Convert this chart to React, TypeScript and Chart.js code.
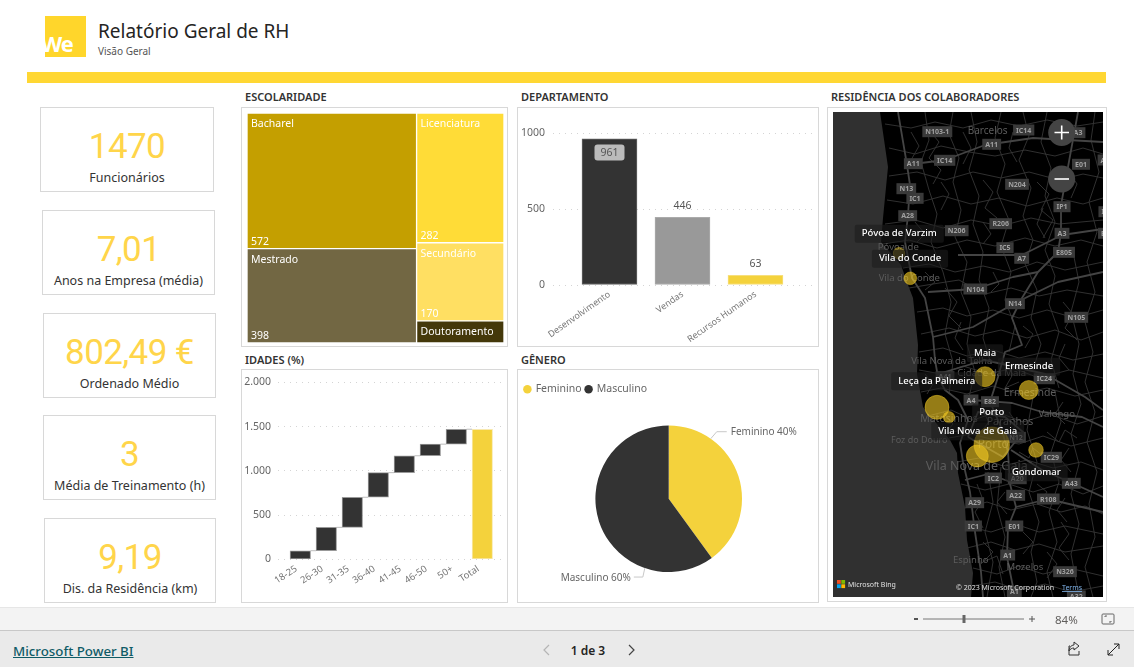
import React, { useEffect, useRef } from "react";
import { Chart, registerables } from "chart.js";

Chart.register(...registerables);

const FONT = '"Noto Sans", "Open Sans", sans-serif';
Chart.defaults.font.family = FONT;

// ---- KPI
const kpiValues = ["1470", "7,01", "802,49 €", "3", "9,19"];
const kpiLabels = ["Funcionários", "Anos na Empresa (média)", "Ordenado Médio", "Média de Treinamento (h)", "Dis. da Residência (km)"];

// ---- Escolaridade
const eduLeftNames = ["Bacharel", "Mestrado"];
const eduLeftValues = [572, 398];
const eduRightNames = ["Licenciatura", "Secundário", "Doutoramento"];
const eduRightValues = [282, 170, 48];
const eduLeftColors = ["#C49F00", "#726743"];
const eduRightColors = ["#FFDC37", "#FFDF62", "#44380A"];

// ---- Departamento
const deptNames = ["Desenvolvimento", "Vendas", "Recursos Humanos"];
const deptValues = [961, 446, 63];
const deptColors = ["#333333", "#999999", "#F4D23C"];
const deptBorders = ["#666666", "#ABABAB", "#F7DF7C"];

// ---- Idades
const ageNames = ["18-25", "26-30", "31-35", "36-40", "41-45", "46-50", "50+", "Total"];
const ageBottoms = [0, 97, 361, 701, 979, 1170, 1301, 0];
const ageTops = [97, 361, 701, 979, 1170, 1301, 1470, 1470];

// ---- Género
const genderNames = ["Feminino", "Masculino"];
const genderValues = [588, 882];
const genderColors = ["#F4D23C", "#333333"];

// ---- Residência (map units)
const cityNames = ["Póvoa de Varzim", "Vila do Conde", "Maia", "Ermesinde", "Leça da Palmeira", "Matosinhos", "Porto", "Vila Nova de Gaia", "Gondomar"];
const cityX = [66, 77.3, 152, 195.7, 104, 116, 158.7, 144.3, 203];
const cityY = [141.3, 166.3, 264.7, 278, 295.3, 305.3, 332.7, 344, 338];
const citySize = [5.7, 6.3, 10, 9.5, 12, 5.7, 17.7, 11, 7.3];
const tipNames = ["Póvoa de Varzim", "Vila do Conde", "Maia", "Ermesinde", "Leça da Palmeira", "Porto", "Vila Nova de Gaia", "Gondomar"];
const tipX = [66.3, 77, 152, 196, 103.7, 158.7, 144.7, 203.3];
const tipY = [121.7, 146.7, 241.3, 254.7, 269.3, 300.7, 319.3, 360.3];
const coast = [0,0, 47,0, 55,55, 50,106, 48,130, 68,153, 75,173, 80,186, 85,233, 84,262, 90,295, 117,328, 124,341, 125,361, 132,395, 134,428, 140,461, 138,485, 0,485];
const towns: [string, number, number, number][] = [
  ["Barcelos",154.7,18.7,10],["Póvoa de",65.3,135.3,9.5],["Vila do Conde",76.3,166.7,9.5],["Vila Nova da Telha",118.7,249.7,9.5],
  ["Cidade da Maia",158.7,261.3,9.5],["Ermesinde",197,281.3,10.5],["Matosinhos",116,306.7,10.5],["Paranhos",177,310,10.5],
  ["Valongo",223.7,302,9.5],["Foz do Douro",86.3,328.7,9],["Porto",160.3,332.7,12],["Vila Nova de Gaia",143.7,354.7,12.5],
  ["Espinho",137.7,448.7,9.5],["Mozelos",192,455.7,9.5],
];
const shields: [string, number, number][] = [
  ["N103-1",104.3,19.7],["IC14",190.7,18],["A11",158.7,32.3],["A11",80.3,51.7],["IC14",111.7,48.3],["E01",248,52.3],["N13",73.3,76.7],
  ["IC1",82,86.3],["N204",184,72.3],["IP1",229,94.7],["A28",74.7,103.7],["R206",167.7,111.7],["N206",123.7,118.7],["A3",229,121.3],
  ["IC5",172,135.7],["E805",231,140.3],["A7",188.7,146.3],["N104",142.3,177],["N14",182,191.7],["N105",243.3,205.3],["A3",245,20.7],
  ["A4",272,48],["IP",272,99.7],["E8",272,121.3],["A41",112,264.7],["IC24",211.3,266.7],["A4",138,288],["E82",157,289.7],["N12",183,325.3],
  ["IC29",218.3,345.3],["IC2",160.3,366],["A20",184.3,366.7],["A43",238.3,371.3],["A22",182.7,383.3],["R108",215.3,387],["A29",141.7,390.7],
  ["IC1",140.3,414],["E01",181.3,414],["A1",174.7,443],["N326",232,459.7],["A1",181.3,479.7],["A32",243.3,484],
];
const mainRoads = [
  [65,0,74,53,77,73,75,103,72,130,79,166,92,186,100,225,102,248,105,265,112,278,125,288,135,308,127,331,130,350,137,380,142,420,148,460,150,485],
  [245,0,235,55,228,93,228,121,225,140,205,160,189,186,179,206,189,233,172,240,165,265,157,290,168,315,175,340,177,372,183,395,175,415,174,445,182,485],
  [125,143,189,143,229,123,270,117],[80,52,112,48,152,33,200,26,270,30],[105,262,152,248,212,262,252,285,270,298],
  [138,288,179,291,209,300,249,305,270,315],[178,338,209,358,239,371,270,385],[135,325,170,345,190,320,172,305,145,300,135,325],
  [183,395,215,387,270,400],[100,225,140,215,182,191,225,170,270,160],[95,180,142,177,180,165,205,160],[132,368,155,362,178,370],
];
const thinRoads = [
  [92,0,96,28,88,50,96,78,104,102,98,130,110,160,118,190,112,222,120,250,116,282],
  [120,0,116,22,126,46,120,70,128,98,122,125,134,150,128,180,138,205,134,232,142,260,136,285],
  [138,0,144,30,136,58,146,84,140,112,150,140,146,168,156,196,150,226,158,252],
  [168,0,162,26,172,52,164,80,176,108,168,134,178,160,172,188,182,214,176,240],
  [190,0,196,24,186,48,198,76,190,104,200,128,192,152,204,178,198,206,208,232,200,258],
  [214,0,208,30,218,56,212,84,222,110,212,138,222,164,216,192,226,220,218,248,226,276],
  [262,0,258,28,266,60,256,90,264,120,254,150,262,180,252,210,260,240,252,270,262,300,254,330,264,360,256,392,262,425,252,455,260,485],
  [240,140,246,170,238,200,246,232,240,262,248,292,238,322,246,352,238,382,246,412,238,442,246,485],
  [222,280,228,310,218,340,226,370,216,400,224,430,214,460,220,485],
  [200,285,194,318,204,350,196,380,206,410,198,440,204,470,198,485],
  [155,360,160,390,152,420,160,450,154,485],[168,355,164,395,172,425,166,455,172,485],
  [52,12,78,16,102,10,130,16,158,8,186,14,214,8,244,14,270,10],
  [56,36,82,42,108,34,136,40,162,44,192,38,222,44,250,36,270,42],
  [56,64,84,60,112,68,140,60,168,66,196,60,226,68,250,62,270,66],
  [54,88,80,92,110,84,138,92,166,86,194,94,224,86,250,92,270,86],
  [52,112,82,108,110,116,138,108,168,114,198,106,226,112,270,108],
  [50,132,76,128,104,136,134,128,162,134,192,126,222,134,248,128,270,134],
  [70,156,96,152,122,160,150,154,176,160,204,150,232,158,270,150],
  [76,176,100,172,126,168,152,182,178,176,206,184,234,178,270,184],
  [84,200,110,196,134,204,160,198,186,206,214,198,242,206,270,198],
  [88,222,116,216,142,224,168,218,194,226,222,218,248,228,270,220],
  [86,240,110,236,134,244,160,238,186,246,212,240,240,248,270,242],
  [86,258,108,262,130,254,156,262,180,256,206,266,236,258,270,266],
  [88,280,108,276,134,282,160,274,186,282,214,276,242,284,270,278],
  [95,304,118,298,140,308,164,300,190,310,216,302,244,312,270,304],
  [116,326,138,322,162,328,186,332,210,324,238,334,270,326],
  [124,350,146,346,170,354,194,348,220,356,248,350,270,358],
  [128,372,152,378,176,372,200,380,226,372,250,382,270,374],
  [132,396,154,390,178,398,204,392,228,400,252,394,270,402],
  [134,414,158,420,182,412,206,420,232,414,270,422],
  [134,436,158,430,182,438,206,432,232,440,270,434],
  [140,456,164,462,186,454,210,462,236,456,270,464],
  [139,474,162,470,186,478,212,472,238,480,270,474],
  [96,18,106,30,96,46,108,58,100,72],[150,68,160,80,152,96,164,106],[204,70,216,82,208,98,220,108,210,126],
  [112,176,124,190,116,204,128,216],[230,190,240,202,232,216,244,228],[170,250,180,262,172,276,186,270],
  [110,300,120,312,112,322,128,318],[144,372,150,388,142,400,150,416],[186,340,196,346,200,336,210,344],
  [214,320,226,330,232,318,244,326],[228,410,236,422,226,436,236,448],[150,450,164,444,170,462],
  [78,20,86,34,78,48],[108,70,116,82,108,98],[130,20,138,36,130,52],[180,20,176,36,184,50],[236,60,244,72,238,86],
  [82,110,92,122,84,130],[150,110,158,122,150,132],[210,96,204,112,212,126],[92,160,102,170,92,178],[160,160,166,172,158,180],
  [128,210,122,226,130,238],[190,214,200,222,192,236],[232,232,226,246,236,258],[92,262,100,272,94,282],
  [230,290,222,302,232,312],[176,300,184,312,176,322],[148,296,156,310,146,322],[236,336,228,348,238,360],
  [172,380,164,390,174,402],[204,372,214,380,206,392],[232,386,224,398,234,410],[190,420,200,430,190,442],[150,430,160,440,148,452],[214,440,224,452,214,466],
];

const box = (x: number, y: number, w: number, h: number) => ({ position: "absolute" as const, left: x, top: y, width: w, height: h, boxSizing: "border-box" as const });

function ChartCanvas({ x, y, w, h, config }: any) {
  const ref = useRef<HTMLCanvasElement>(null);
  useEffect(() => {
    const c = new Chart(ref.current as any, config());
    return () => c.destroy();
  }, []);
  return <canvas ref={ref} width={w} height={h} style={{ position: "absolute", left: x, top: y, width: w, height: h }} />;
}

const fixX = (height: number) => (s: any) => { s.height = height; s.paddingLeft = 0; s.paddingRight = 0; };
const fixY = (width: number) => (s: any) => { s.width = width; s.paddingTop = 0; s.paddingBottom = 0; };
const noFrills = { responsive: false, animation: false as const, plugins: { legend: { display: false }, tooltip: { enabled: false } } };

function eduConfig() {
  const W = 257;
  const total = [...eduLeftValues, ...eduRightValues].reduce((a, b) => a + b, 0);
  const leftTotal = eduLeftValues.reduce((a, b) => a + b, 0);
  const rightTotal = eduRightValues.reduce((a, b) => a + b, 0);
  const datasets: any[] = [];
  const column = (names: string[], values: number[], colors: string[], colTotal: number, start: number) => {
    let cum = 0;
    values.forEach((v, i) => {
      datasets.push({
        label: names[i],
        data: [{ x: start + colTotal / 2, y: [cum / colTotal, (cum + v) / colTotal] }],
        backgroundColor: colors[i],
        borderColor: "#ffffff",
        borderWidth: 1,
        borderSkipped: false,
        barThickness: (colTotal / total) * W,
        grouped: false,
        cellValue: v,
      });
      cum += v;
    });
  };
  column(eduLeftNames, eduLeftValues, eduLeftColors, leftTotal, 0);
  column(eduRightNames, eduRightValues, eduRightColors, rightTotal, leftTotal);
  return {
    type: "bar",
    data: { datasets },
    options: {
      ...noFrills,
      layout: { padding: 0 },
      scales: {
        x: { type: "linear", min: 0, max: total, display: false, offset: false },
        y: { type: "linear", min: 0, max: 1, reverse: true, display: false },
      },
    },
    plugins: [{
      id: "cellLabels",
      afterDatasetsDraw(chart: any) {
        const ctx = chart.ctx;
        ctx.save();
        ctx.fillStyle = "#ffffff";
        ctx.font = `10.5px ${FONT}`;
        ctx.textBaseline = "middle";
        chart.data.datasets.forEach((d: any, i: number) => {
          const el = chart.getDatasetMeta(i).data[0];
          const left = el.x - el.width / 2 + 4;
          const top = Math.min(el.y, el.base);
          const bottom = Math.max(el.y, el.base);
          if (bottom - top < 26) {
            ctx.fillText(d.label, left, (top + bottom) / 2 + 0.5);
          } else {
            ctx.fillText(d.label, left, top + 11.5);
            ctx.fillText(String(d.cellValue), left, bottom - 7);
          }
        });
        ctx.restore();
      },
    }],
  };
}

function deptConfig() {
  return {
    type: "bar",
    data: {
      datasets: [{
        data: deptValues.map((v, i) => ({ x: i, y: v })),
        backgroundColor: deptColors, borderColor: deptBorders, borderWidth: 1, borderSkipped: false, barThickness: 55,
      }],
    },
    options: {
      ...noFrills,
      layout: { padding: { left: 0, right: 4, top: 25, bottom: 0 } },
      scales: {
        x: {
          type: "linear", min: -0.774, max: 2.788, offset: false, afterFit: fixX(60),
          afterBuildTicks: (s: any) => { s.ticks = deptNames.map((_, i) => ({ value: i })); },
          grid: { display: false }, border: { display: false },
          ticks: { autoSkip: false, minRotation: 35, maxRotation: 35, padding: -4, color: "#777777", font: { size: 9 }, callback: (v: number) => deptNames[v] },
        },
        y: {
          min: 0, max: 1000, afterFit: fixY(35),
          grid: { color: "#d4d4d4", drawTicks: false, lineWidth: 1 }, border: { display: false, dash: [1, 5] },
          ticks: { stepSize: 500, padding: 8, color: "#666666", font: { size: 10.5 }, callback: (v: number) => String(v) },
        },
      },
    },
    plugins: [{
      id: "valueLabels",
      afterDatasetsDraw(chart: any) {
        const ctx = chart.ctx;
        ctx.save();
        ctx.font = `10.5px ${FONT}`;
        ctx.textAlign = "center";
        ctx.textBaseline = "middle";
        chart.getDatasetMeta(0).data.forEach((el: any, i: number) => {
          if (i === 0) {
            ctx.fillStyle = "#BBBBBB";
            ctx.beginPath();
            ctx.roundRect(el.x - 15, el.y + 5.5, 30, 16, 3);
            ctx.fill();
            ctx.fillStyle = "#555555";
            ctx.fillText(String(deptValues[i]), el.x, el.y + 14);
          } else {
            ctx.fillStyle = "#555555";
            ctx.fillText(String(deptValues[i]), el.x, el.y - 11.5);
          }
        });
        ctx.restore();
      },
    }],
  };
}

function ageConfig() {
  const last = ageNames.length - 1;
  return {
    type: "bar",
    data: {
      datasets: [{
        data: ageNames.map((_, i) => ({ x: i, y: [ageBottoms[i], ageTops[i]] })),
        backgroundColor: ageNames.map((_, i) => (i === last ? "#F4D23C" : "#333333")),
        borderColor: ageNames.map((_, i) => (i === last ? "#F8E9B0" : "#999999")),
        borderWidth: 1, borderSkipped: false, barThickness: 20.5,
      }],
    },
    options: {
      ...noFrills,
      layout: { padding: { left: 0, right: 4, top: 12.3, bottom: 0 } },
      scales: {
        x: {
          type: "linear", min: -0.858, max: 7.796, offset: false, afterFit: fixX(41.7),
          afterBuildTicks: (s: any) => { s.ticks = ageNames.map((_, i) => ({ value: i })); },
          grid: { display: false }, border: { display: false },
          ticks: { autoSkip: false, minRotation: 33, maxRotation: 33, padding: -4, labelOffset: -4, color: "#777777", font: { size: 9.5 }, callback: (v: number) => ageNames[v] },
        },
        y: {
          min: 0, max: 2000, afterFit: fixY(36),
          grid: { color: "#d4d4d4", drawTicks: false }, border: { display: false, dash: [1, 5] },
          ticks: { stepSize: 500, padding: 7, color: "#666666", font: { size: 10.5 }, callback: (v: number) => (v >= 1000 ? `${Math.floor(v / 1000)}.${String(v % 1000).padStart(3, "0")}` : String(v)) },
        },
      },
    },
    plugins: [{
      id: "connectors",
      afterDatasetsDraw(chart: any) {
        const ctx = chart.ctx;
        const els = chart.getDatasetMeta(0).data;
        ctx.save();
        ctx.strokeStyle = "#BDBDBD";
        ctx.lineWidth = 1;
        for (let i = 0; i < els.length - 1; i++) {
          ctx.beginPath();
          ctx.moveTo(els[i].x + els[i].width / 2, els[i].y);
          ctx.lineTo(els[i + 1].x - els[i + 1].width / 2, els[i].y);
          ctx.stroke();
        }
        ctx.restore();
      },
    }],
  };
}

function genderConfig() {
  return {
    type: "pie",
    data: { labels: genderNames, datasets: [{ data: genderValues, backgroundColor: genderColors, borderWidth: 0, radius: 73.3 }] },
    options: {
      responsive: false,
      animation: false,
      layout: { padding: { left: 2.4, right: 0, top: 10, bottom: 8 } },
      plugins: {
        tooltip: { enabled: false },
        legend: {
          position: "top", align: "start",
          labels: { usePointStyle: true, pointStyle: "circle", boxWidth: 6, boxHeight: 6, padding: 4, color: "#666666", font: { size: 10.5 } },
        },
      },
    },
    plugins: [{
      id: "pieCallouts",
      afterDatasetsDraw(chart: any) {
        const ctx = chart.ctx;
        const arc = chart.getDatasetMeta(0).data[0];
        const pct = genderValues.map((v) => Math.round((100 * v) / (genderValues[0] + genderValues[1])));
        const at = (deg: number) => {
          const a = (deg * Math.PI) / 180;
          return [arc.x + Math.sin(a) * arc.outerRadius, arc.y - Math.cos(a) * arc.outerRadius];
        };
        ctx.save();
        ctx.strokeStyle = "#C8C8C8";
        ctx.lineWidth = 1;
        ctx.fillStyle = "#666666";
        ctx.font = `10px ${FONT}`;
        ctx.textBaseline = "middle";
        const [fx, fy] = at(35);
        ctx.beginPath(); ctx.moveTo(fx, fy); ctx.lineTo(fx + 6, fy - 7); ctx.lineTo(fx + 16, fy - 7); ctx.stroke();
        ctx.textAlign = "left";
        ctx.fillText(`${genderNames[0]} ${pct[0]}%`, fx + 20, fy - 6.5);
        const [mx, my] = at(199);
        ctx.beginPath(); ctx.moveTo(mx, my); ctx.lineTo(mx - 2, my + 9); ctx.lineTo(mx - 11, my + 9); ctx.stroke();
        ctx.textAlign = "right";
        ctx.fillText(`${genderNames[1]} ${pct[1]}%`, mx - 14, my + 10);
        ctx.restore();
      },
    }],
  };
}

function mapConfig() {
  return {
    type: "bubble",
    data: {
      datasets: [{
        data: cityNames.map((_, i) => ({ x: cityX[i], y: cityY[i], r: citySize[i] })),
        backgroundColor: cityNames.map((_, i) => (i === 0 ? "rgba(240,205,50,0.42)" : "rgba(240,200,35,0.62)")),
        borderColor: "rgba(240,200,35,0.45)",
        borderWidth: 1,
      }],
    },
    options: {
      ...noFrills,
      layout: { padding: 0, autoPadding: false },
      scales: {
        x: { type: "linear", min: 0, max: 270, display: false },
        y: { type: "linear", min: 0, max: 485, reverse: true, display: false },
      },
    },
    plugins: [{
      id: "mapBase",
      beforeDatasetsDraw(chart: any) {
        const ctx = chart.ctx;
        const X = (v: number) => chart.scales.x.getPixelForValue(v);
        const Y = (v: number) => chart.scales.y.getPixelForValue(v);
        const path = (p: number[]) => {
          ctx.beginPath();
          for (let i = 0; i < p.length; i += 2) {
            if (i === 0) ctx.moveTo(X(p[i]), Y(p[i + 1])); else ctx.lineTo(X(p[i]), Y(p[i + 1]));
          }
        };
        ctx.save();
        ctx.fillStyle = "#000000";
        ctx.fillRect(0, 0, chart.width, chart.height);
        ctx.lineJoin = "round";
        ctx.strokeStyle = "#363636"; ctx.lineWidth = 0.9;
        thinRoads.forEach((r) => { path(r); ctx.stroke(); });
        ctx.strokeStyle = "#444444"; ctx.lineWidth = 1.8;
        mainRoads.forEach((r) => { path(r); ctx.stroke(); });
        ctx.fillStyle = "#303030";
        path(coast); ctx.closePath(); ctx.fill();
        ctx.textAlign = "center"; ctx.textBaseline = "middle";
        towns.forEach(([t, x, y, s]) => {
          ctx.font = `${s}px ${FONT}`;
          ctx.fillStyle = "#5C5C5C";
          ctx.fillText(t, X(x), Y(y));
        });
        ctx.font = `bold 7px ${FONT}`;
        shields.forEach(([t, x, y]) => {
          const w = ctx.measureText(t).width + 6;
          ctx.fillStyle = "#3A3A3A";
          ctx.fillRect(X(x) - w / 2, Y(y) - 5.5, w, 11);
          ctx.fillStyle = "#A0A0A0";
          ctx.fillText(t, X(x), Y(y) + 0.5);
        });
        ctx.restore();
      },
      afterDatasetsDraw(chart: any) {
        const ctx = chart.ctx;
        const X = (v: number) => chart.scales.x.getPixelForValue(v);
        const Y = (v: number) => chart.scales.y.getPixelForValue(v);
        ctx.save();
        ctx.textAlign = "center"; ctx.textBaseline = "middle";
        ctx.font = `500 9.5px ${FONT}`;
        tipNames.forEach((t, i) => {
          const w = ctx.measureText(t).width + 14;
          ctx.fillStyle = "rgba(28,28,28,0.6)";
          ctx.beginPath(); ctx.roundRect(X(tipX[i]) - w / 2, Y(tipY[i]) - 9, w, 18, 2); ctx.fill();
          ctx.fillStyle = "#FFFFFF";
          ctx.fillText(t, X(tipX[i]), Y(tipY[i]));
        });
        // zoom buttons
        [40.5, 87].forEach((cy, i) => {
          ctx.fillStyle = "#444444";
          ctx.beginPath(); ctx.arc(228.7, cy - 20 + 0, 13.5, 0, Math.PI * 2); ctx.fill();
          ctx.strokeStyle = "#FFFFFF"; ctx.lineWidth = 1.6;
          ctx.beginPath(); ctx.moveTo(221.5, cy - 20); ctx.lineTo(236, cy - 20);
          if (i === 0) { ctx.moveTo(228.7, cy - 27); ctx.lineTo(228.7, cy - 13); }
          ctx.stroke();
        });
        // attribution
        const sq = 3.8;
        [["#F25022", 0, 0], ["#7FBA00", 4.3, 0], ["#00A4EF", 0, 4.3], ["#FFB900", 4.3, 4.3]].forEach(([c, dx, dy]: any) => {
          ctx.fillStyle = c; ctx.fillRect(4 + dx, 468 + dy, sq, sq);
        });
        ctx.textAlign = "left";
        ctx.fillStyle = "#E0E0E0";
        ctx.font = `7px ${FONT}`;
        ctx.fillText("Microsoft Bing", 15, 472.5);
        ctx.fillText("© 2023 Microsoft Corporation", 123, 475.5);
        ctx.fillStyle = "#7FB2E8";
        ctx.fillText("Terms", 229, 475.5);
        ctx.fillRect(229, 479, 20, 0.8);
        ctx.restore();
      },
    }],
  };
}

const kpiCards = [
  [40, 107, 174, 85],
  [42, 210, 173, 85],
  [43, 313, 173, 85],
  [43, 415, 173, 85],
  [44, 518, 172, 85],
];
const panels = [
  [241, 107, 267, 240, "ESCOLARIDADE", 245, 96.5],
  [517, 107, 302, 240, "DEPARTAMENTO", 521, 96.5],
  [241, 369, 267, 234, "IDADES (%)", 245, 359.5],
  [517, 369, 302, 234, "GÊNERO", 521, 359.5],
  [827, 107, 280, 495, "RESIDÊNCIA DOS COLABORADORES", 831, 96.5],
];
const border = "1px solid #D8D8D8";

function Text({ x, y, w, align, size, color, weight, family, children, spacing }: any) {
  return (
    <div style={{ position: "absolute", left: x, top: y, width: w, height: 0, display: "flex", alignItems: "center", justifyContent: align === "center" ? "center" : align === "right" ? "flex-end" : "flex-start", whiteSpace: "nowrap", fontSize: size, color, fontWeight: weight || 400, fontFamily: family || FONT, letterSpacing: spacing }}>
      {children}
    </div>
  );
}

export default function App() {
  return (
    <div style={{ position: "fixed", left: 0, top: 0, width: 1134, height: 667, background: "#FFFFFF", overflow: "hidden", fontFamily: FONT }}>
      {/* header */}
      <div style={{ ...box(45, 16, 41, 41), background: "#FFD62B", overflow: "hidden" }}>
        <div style={{ position: "absolute", left: -4, top: 13, fontFamily: '"Open Sans"', fontWeight: 700, fontSize: 22, letterSpacing: -1.5, color: "#FFFFFF", lineHeight: "28px" }}>We</div>
      </div>
      <Text x={98} y={31} size={19} color="#252423">Relatório Geral de RH</Text>
      <Text x={98} y={51} size={10} color="#555555">Visão Geral</Text>
      <div style={{ ...box(27, 72, 1079, 11), background: "#FFD733" }} />

      {/* KPI */}
      {kpiCards.map(([x, y, w, h], i) => (
        <React.Fragment key={i}>
          <div style={{ ...box(x, y, w, h), border }} />
          <Text x={x} y={y + 39} w={w} align="center" size={35} color="#FFD54A" family='Roboto' spacing="-0.6px">{kpiValues[i]}</Text>
          <Text x={x} y={y + 70} w={w} align="center" size={12.5} color="#333333">{kpiLabels[i]}</Text>
        </React.Fragment>
      ))}

      {/* panels */}
      {panels.map(([x, y, w, h, t, tx, ty]: any, i) => (
        <React.Fragment key={i}>
          <div style={{ ...box(x, y, w, h), border }} />
          <Text x={tx} y={ty} size={11} weight={600} color="#333333">{t}</Text>
        </React.Fragment>
      ))}

      <ChartCanvas x={247} y={113} w={257} h={230} config={eduConfig} />
      <ChartCanvas x={518} y={108} w={299} h={237} config={deptConfig} />
      <ChartCanvas x={242} y={370} w={265} h={231} config={ageConfig} />
      <ChartCanvas x={518} y={370} w={299} h={231} config={genderConfig} />
      <ChartCanvas x={833} y={112} w={270} h={485} config={mapConfig} />

      {/* footer */}
      <div style={{ ...box(0, 607, 1134, 24), background: "#F3F3F3", borderTop: "1px solid #E6E6E6" }} />
      <div style={{ ...box(0, 630, 1134, 37), background: "#EAEAEA", borderTop: "1px solid #C8C8C8" }} />
      <Text x={13} y={651} size={13.3} weight={500} color="#0F5B66"><span style={{ textDecoration: "underline" }}>Microsoft Power BI</span></Text>
      <Text x={548} y={650} w={80} align="center" size={12} weight={600} color="#252423">1 de 3</Text>
      <svg style={{ position: "absolute", left: 0, top: 600 }} width={1134} height={67} fill="none">
        <path d="M549 45l-5 5 5 5" stroke="#B5B5B5" strokeWidth="1.2" />
        <path d="M629 45l5 5-5 5" stroke="#444" strokeWidth="1.2" />
        <path d="M914 19h4" stroke="#555" strokeWidth="2" />
        <path d="M923 19h101" stroke="#777" strokeWidth="1" />
        <path d="M964 15v8" stroke="#666" strokeWidth="3" />
        <path d="M1029 19h6M1032 16v6" stroke="#555" strokeWidth="1" />
        <rect x="1102" y="14" width="12" height="10" rx="1" stroke="#666" />
        <path d="M1105 17v-1h2M1111 21v1h-2" stroke="#666" />
        <path d="M1070 46h-1v9h10v-4M1074 42l5 4-5 4v-2c-2 0-4 1-5 3 0-3 2-6 5-6z" stroke="#333" />
        <path d="M1108 55l11-11M1114 44h5v5M1108 50v5h5" stroke="#222" />
      </svg>
      <Text x={1055} y={619} size={11.5} color="#605E5C">84%</Text>
    </div>
  );
}
